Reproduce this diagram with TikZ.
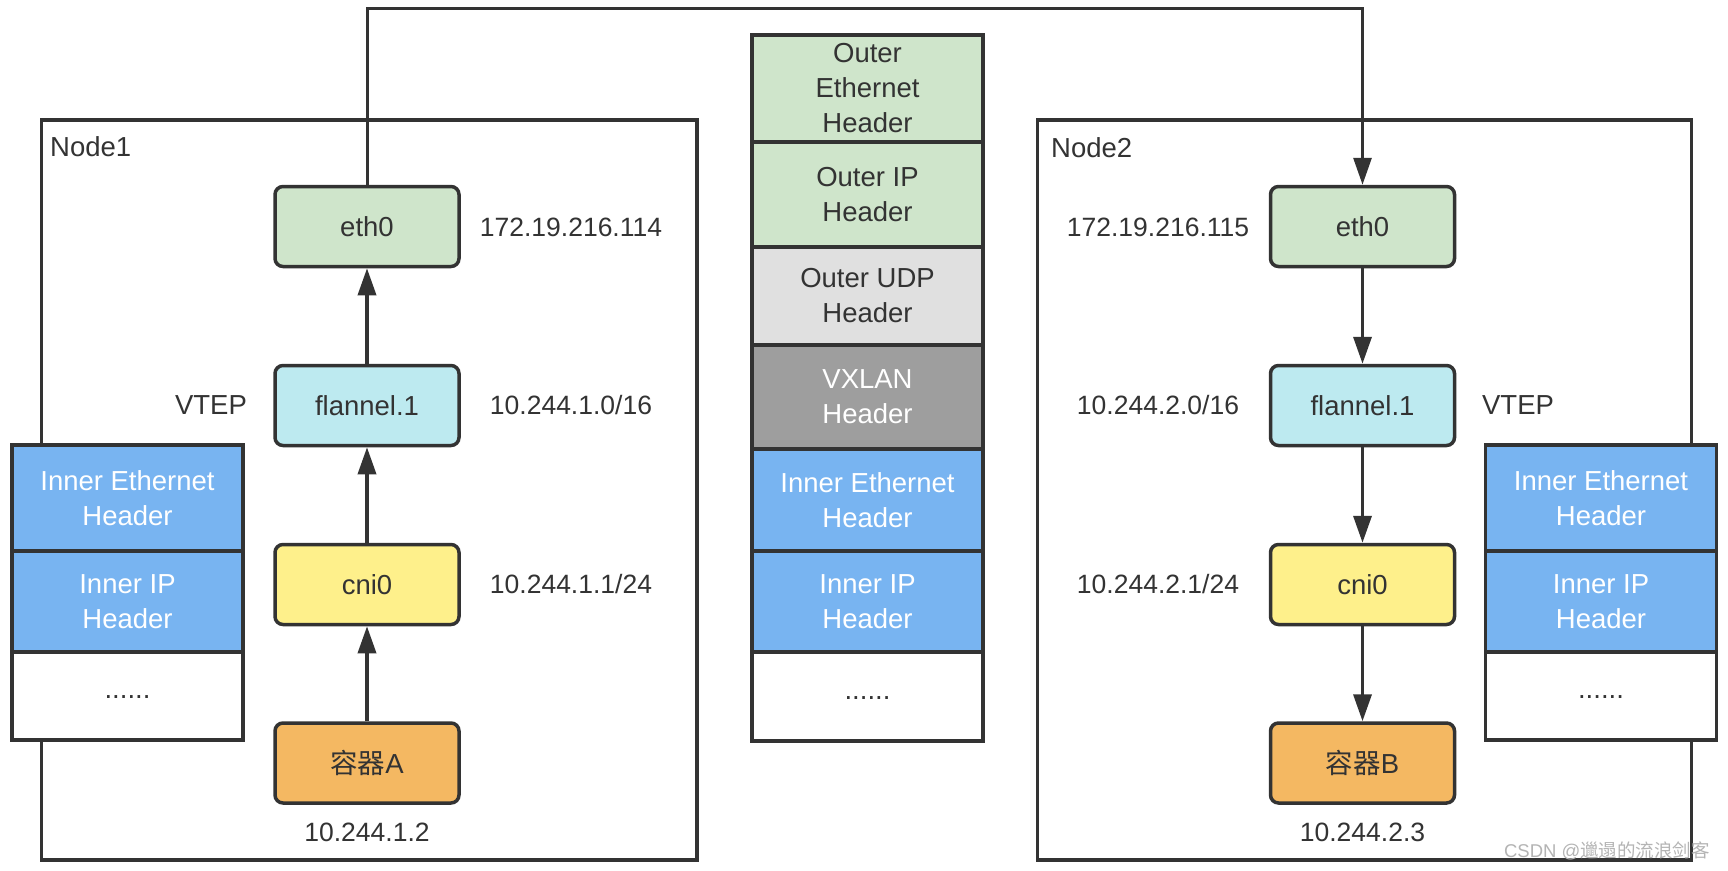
\documentclass[tikz,border=0pt]{standalone}
\usepackage{fontspec}
\setmainfont{Liberation Sans}
\newfontfamily\cjk{Noto Sans CJK SC}
\usetikzlibrary{arrows.meta}
\definecolor{bd}{HTML}{333333}
\definecolor{txt}{HTML}{333333}
\definecolor{cgreen}{HTML}{CFE5CB}
\definecolor{ccyan}{HTML}{BDEAF0}
\definecolor{cyellow}{HTML}{FEF08B}
\definecolor{corange}{HTML}{F4B862}
\definecolor{clgray}{HTML}{E0E0E0}
\definecolor{cdgray}{HTML}{9E9E9E}
\definecolor{cblue}{HTML}{78B4F1}
\definecolor{wm}{HTML}{B4B4B4}
\tikzset{
  base/.style={font=\fontsize{27.5}{35}\selectfont, text=txt},
  numtxt/.style={font=\fontsize{26.5}{35}\selectfont, text=txt},
  box/.style={base, draw=bd, line width=3.5pt, rounded corners=8pt, minimum width=184pt, minimum height=80pt, inner sep=0pt},
  cell/.style={base, draw=bd, line width=3.5pt, outer sep=0pt, inner sep=0pt, anchor=north, align=center, minimum width=231pt},
  lbl/.style={base, inner sep=0pt},
  nlbl/.style={numtxt, inner sep=0pt},
  flow/.style={draw=bd, line width=3.5pt, -{Triangle[length=27pt,width=18pt]}},
  frame/.style={draw=bd, line width=3.5pt},
  topline/.style={draw=bd, line width=3pt, -{Triangle[length=27pt,width=18pt]}},
}
\begin{document}
\begin{tikzpicture}[x=1pt,y=-1pt]
\useasboundingbox (0,0) rectangle (1728,870);
\fill[white] (0,0) rectangle (1728,870);

% node frames
\draw[frame] (41.7,120) rectangle (697,860);
\draw[frame] (1037.7,120) rectangle (1691.7,860);
\node[lbl, anchor=west] (n1) at (50,147) {Node1};
\node[lbl, anchor=west] (n2) at (1051,148) {Node2};

% Node1 boxes
\node[box, fill=cgreen]  (eth1) at (367,226.5) {eth0};
\node[box, fill=ccyan]   (fl1)  at (367,405.5) {flannel.1};
\node[box, fill=cyellow] (cni1) at (367,584.5) {cni0};
\node[box, fill=corange] (ca)   at (367,763)   {{\cjk 容器}A};

% Node2 boxes
\node[box, fill=cgreen]  (eth2) at (1362.5,226.5) {eth0};
\node[box, fill=ccyan]   (fl2)  at (1362.5,405.5) {flannel.1};
\node[box, fill=cyellow] (cni2) at (1362.5,584.5) {cni0};
\node[box, fill=corange] (cb)   at (1362.5,763)   {{\cjk 容器}B};

% labels
\node[nlbl] (ip1a) at (571,227) {172.19.216.114};
\node[nlbl] (ip1b) at (571,405) {10.244.1.0/16};
\node[nlbl] (ip1c) at (571,584) {10.244.1.1/24};
\node[nlbl] (ip1d) at (367,832) {10.244.1.2};
\node[lbl]  (vt1)  at (211,405) {VTEP};
\node[nlbl] (ip2a) at (1158,227) {172.19.216.115};
\node[nlbl] (ip2b) at (1158,405) {10.244.2.0/16};
\node[nlbl] (ip2c) at (1158,584) {10.244.2.1/24};
\node[nlbl] (ip2d) at (1362.5,832) {10.244.2.3};
\node[lbl]  (vt2)  at (1518,405) {VTEP};

% flows
\draw[flow] (ca) -- (cni1);
\draw[flow] (cni1) -- (fl1);
\draw[flow] (fl1) -- (eth1);
\draw[flow] (eth2) -- (fl2);
\draw[flow] (fl2) -- (cni2);
\draw[flow] (cni2) -- (cb);
\coordinate (mid) at (865,8);
\draw[topline] (eth1.north) |- (mid) -| (eth2.north);

% center stack
\node[cell, fill=cgreen, minimum height=107pt] (oe) at (867.5,35) {Outer\\Ethernet\\Header};
\node[cell, fill=cgreen, minimum height=105pt] (oip) at (oe.south) {Outer IP\\Header};
\node[cell, fill=clgray, minimum height=98pt] (udp) at (oip.south) {Outer UDP\\Header};
\node[cell, fill=cdgray, minimum height=104pt, text=white] (vx) at (udp.south) {VXLAN\\Header};
\node[cell, fill=cblue, minimum height=102pt, text=white] (ie) at (vx.south) {Inner Ethernet\\Header};
\node[cell, fill=cblue, minimum height=101pt, text=white] (iip) at (ie.south) {Inner IP\\Header};
\node[cell, fill=white, minimum height=89pt] (dt) at (iip.south) {\raisebox{-5pt}{......}};

% left stack
\node[cell, fill=cblue, minimum height=106pt, text=white] (lie) at (127.5,445) {Inner Ethernet\\Header};
\node[cell, fill=cblue, minimum height=101pt, text=white] (liip) at (lie.south) {Inner IP\\Header};
\node[cell, fill=white, minimum height=88pt] (ldt) at (liip.south) {\raisebox{-5pt}{......}};

% right stack
\node[cell, fill=cblue, minimum height=106pt, text=white] (rie) at (1601,445) {Inner Ethernet\\Header};
\node[cell, fill=cblue, minimum height=101pt, text=white] (riip) at (rie.south) {Inner IP\\Header};
\node[cell, fill=white, minimum height=88pt] (rdt) at (riip.south) {\raisebox{-5pt}{......}};

% watermark
\node[inner sep=0pt, text=wm, font=\fontsize{18.5}{22}\selectfont] (wmk) at (1607,851) {CSDN @{\cjk 邋遢的流浪剑客}};
\end{tikzpicture}
\end{document}
